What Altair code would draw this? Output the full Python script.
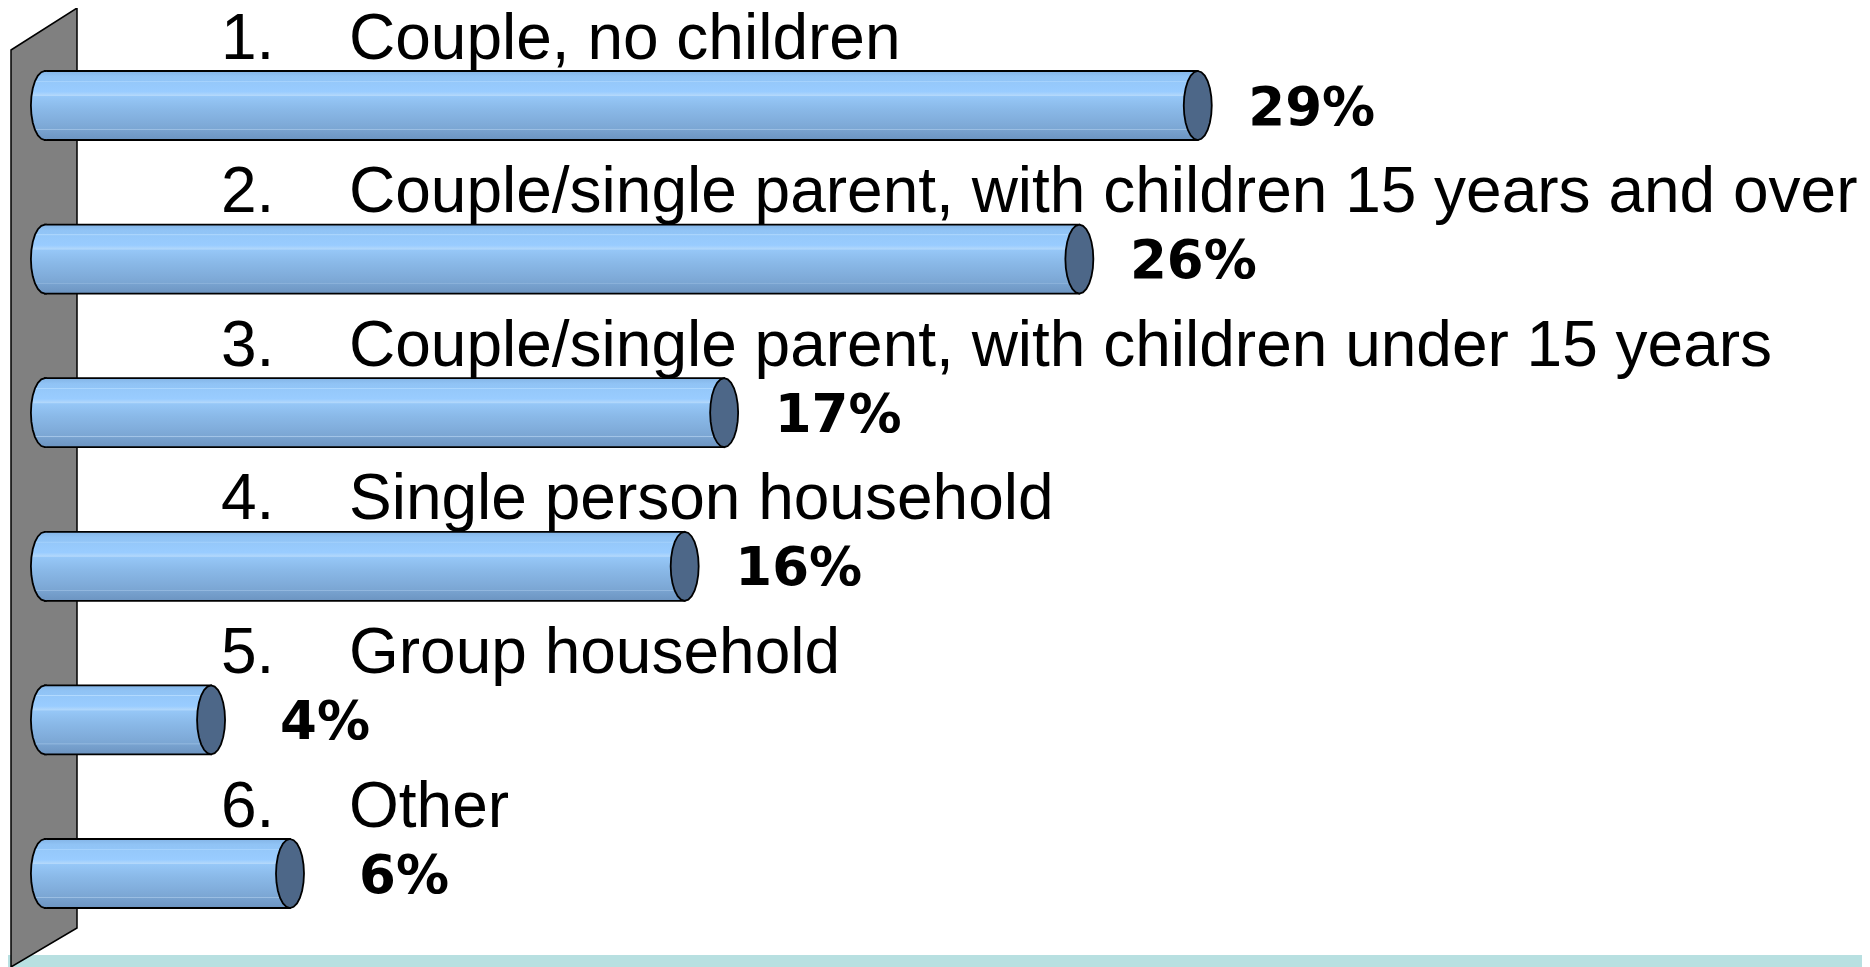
import math
import altair as alt
import pandas as pd

# ---- data ----
numbers = ["1.", "2.", "3.", "4.", "5.", "6."]
categories = [
    "Couple, no children",
    "Couple/single parent, with children 15 years and over",
    "Couple/single parent, with children under 15 years",
    "Single person household",
    "Group household",
    "Other",
]
values = [29, 26, 17, 16, 4, 6]
value_labels = ["29%", "26%", "17%", "16%", "4%", "6%"]

BASE = -0.21  # where the cylinders start (inside the wall)
df = pd.DataFrame({"num": numbers, "category": categories,
                   "value": values, "label": value_labels,
                   "start": [BASE] * len(values)})
one = pd.DataFrame({"k": [0]})

W, H = 1854, 959

xscale = alt.Scale(domain=[-1.145, 45.83], zero=False, nice=False)
yscale = alt.Scale(domain=categories, range=[20.7, 942.3], paddingInner=0, paddingOuter=0)


def ellipse_path(rx, ry, n=24):
    pts = [(rx * math.sin(2 * math.pi * k / n), -ry * math.cos(2 * math.pi * k / n)) for k in range(n)]
    return "M" + " L".join(f"{x:.2f},{y:.2f}" for x, y in pts) + " Z"


def left_half_path(rx, ry, n=12):
    pts = [(-rx * math.sin(math.pi * k / n), -ry * math.cos(math.pi * k / n)) for k in range(n + 1)]
    body = " L".join(f"{x:.2f},{y:.2f}" for x, y in pts)
    return f"M2,{-ry:.2f} L{body} L2,{ry:.2f}"


RX, RY = 14, 34.5
cap_shape = ellipse_path(RX, RY)
left_shape = left_half_path(RX, RY)
wall_shape = "M-33,-438 L33,-480 L33,440 L-33,479 Z"

stops = [
    (0.0, "#84b5e6"), (0.08, "#90c3f5"), (0.14, "#92c5f7"), (0.145, "#b5dcff"),
    (0.16, "#95c8fa"), (0.3, "#99ccff"), (0.355, "#b3d8fb"), (0.37, "#96c7f7"),
    (0.55, "#8ab9e8"), (0.75, "#80acda"), (0.84, "#7ba6d3"), (0.845, "#a3c5e8"),
    (0.86, "#78a2cf"), (1.0, "#6c94c1"),
]
grad = alt.LinearGradient(
    gradient="linear", x1=0, y1=0, x2=0, y2=1,
    stops=[alt.GradientStop(offset=o, color=c) for o, c in stops],
)

band = alt.Chart(one).mark_rect(color="#b8e0e1").encode(
    x=alt.value(-10), x2=alt.value(W + 10), y=alt.value(947), y2=alt.value(H + 10)
)

wall = alt.Chart(one).mark_point(
    shape=wall_shape, size=4, filled=True, fill="#808080", stroke="black",
    strokeWidth=1.5, opacity=1
).encode(x=alt.value(36), y=alt.value(480))

base = alt.Chart(df)
ycat = alt.Y("category:N", scale=yscale, axis=None, sort=categories)

body = base.mark_bar(height=69, color=grad, stroke="black", strokeWidth=1.8).encode(
    x=alt.X("value:Q", scale=xscale, axis=None, stack=None),
    x2=alt.X2("start:Q"),
    y=ycat,
)

left_cap = base.mark_point(
    shape=left_shape, size=4, filled=True, color=grad, stroke="black",
    strokeWidth=1.8, opacity=1
).encode(x=alt.X("start:Q", scale=xscale, axis=None), y=ycat)

right_cap = base.mark_point(
    shape=cap_shape, size=4, filled=True, fill="#4d6788", stroke="black",
    strokeWidth=1.8, opacity=1
).encode(x=alt.X("value:Q", scale=xscale, axis=None), y=ycat)

num_text = base.mark_text(
    font="Liberation Sans", fontSize=64, align="left", baseline="alphabetic",
    dy=-47, color="black"
).encode(x=alt.value(213), y=ycat, text="num:N")

name_text = base.mark_text(
    font="Liberation Sans", fontSize=64, align="left", baseline="alphabetic",
    dy=-47, color="black"
).encode(x=alt.value(341), y=ycat, text="category:N")

pct_text = base.mark_text(
    font="DejaVu Sans", fontWeight="bold", fontSize=53, align="center",
    baseline="alphabetic", dx=114, dy=19, color="black"
).encode(x=alt.X("value:Q", scale=xscale, axis=None), y=ycat, text="label:N")

chart = alt.layer(
    band, wall, body, left_cap, right_cap, num_text, name_text, pct_text
).properties(
    width=W, height=H, padding=0,
    autosize=alt.AutoSizeParams(type="none"),
).configure_view(stroke=None)

chart.save("out.html", embed_options={"renderer": "svg", "actions": False})
